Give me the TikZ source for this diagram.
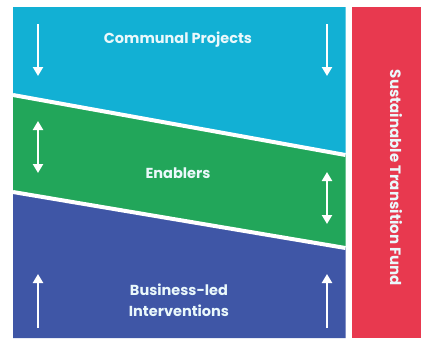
\documentclass[tikz,border=0pt]{standalone}
\usepackage{fontspec}
\setmainfont{Poppins}
\usetikzlibrary{arrows.meta}
\definecolor{cpblue}{HTML}{12B0D4}
\definecolor{engreen}{HTML}{22A65A}
\definecolor{bldblue}{HTML}{3F56A6}
\definecolor{stfred}{HTML}{E8394F}
\definecolor{txtlight}{HTML}{EAF8FB}
\tikzset{
  band/.style={draw=none},
  sepline/.style={white,line width=4pt},
  lbl/.style={text=txtlight,font=\bfseries\fontsize{14.5}{21}\selectfont,align=center},
  flowarrow/.style={white,line width=2.8pt,-{Triangle[width=10pt,length=9pt]}},
  bothflow/.style={white,line width=2.8pt,{Triangle[width=10pt,length=9pt]}-{Triangle[width=10pt,length=9pt]}},
}
\begin{document}
\begin{tikzpicture}[x=1pt,y=-1pt]
\useasboundingbox (0,0) rectangle (421,338);
\fill[white] (0,0) rectangle (421,338);
% bands
\fill[cpblue,band] (13,7) -- (345.5,7) -- (345.5,155) -- (13,95) -- cycle;
\fill[engreen,band] (13,95) -- (345.5,155) -- (345.5,248) -- (13,192) -- cycle;
\fill[bldblue,band] (13,192) -- (345.5,248) -- (345.5,338) -- (13,338) -- cycle;
\coordinate (s1a) at (13,95);
\coordinate (s1b) at (345.5,155);
\coordinate (s2a) at (13,192);
\coordinate (s2b) at (345.5,248);
\draw[sepline] (s1a) -- (s1b);
\draw[sepline] (s2a) -- (s2b);
% fund
\fill[stfred] (352,7) rectangle (421,338);
\node[text=txtlight,font=\bfseries\fontsize{15}{18}\selectfont,rotate=-90] (fund) at (396,178) {Sustainable Transition Fund};
% labels
\node[lbl] (cp) at (178,40) {Communal Projects};
\node[lbl] (en) at (178,173) {Enablers};
\node[lbl] (bl) at (179,300.5) {Business-led\\Interventions};
% arrows
\coordinate (a1s) at (38,24); \coordinate (a1e) at (38,76);
\coordinate (a2s) at (327,24); \coordinate (a2e) at (327,76);
\coordinate (b1s) at (38,121); \coordinate (b1e) at (38,173);
\coordinate (b2s) at (327,172); \coordinate (b2e) at (327,224);
\coordinate (c1s) at (38,328); \coordinate (c1e) at (38,274);
\coordinate (c2s) at (327,328); \coordinate (c2e) at (327,274);
\draw[flowarrow] (a1s) -- (a1e);
\draw[flowarrow] (a2s) -- (a2e);
\draw[bothflow] (b1s) -- (b1e);
\draw[bothflow] (b2s) -- (b2e);
\draw[flowarrow] (c1s) -- (c1e);
\draw[flowarrow] (c2s) -- (c2e);
\end{tikzpicture}
\end{document}
